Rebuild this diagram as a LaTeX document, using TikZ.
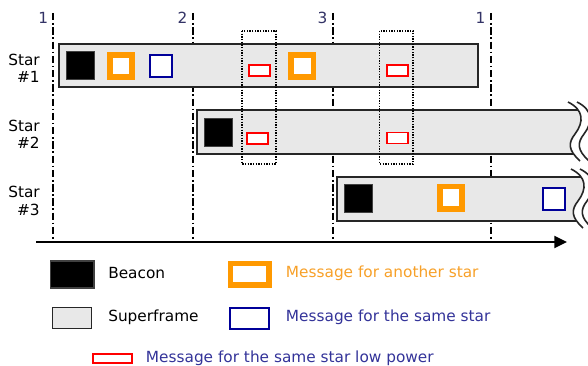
\documentclass[tikz,border=0pt]{standalone}
\usepackage{fontspec}
\setmainfont{DejaVu Sans}
\usepackage{tikz}
\usetikzlibrary{arrows.meta}
\usepackage{xcolor}
\definecolor{framegray}{RGB}{232,232,232}
\definecolor{msgorange}{RGB}{255,153,0}
\definecolor{msgblue}{RGB}{0,0,153}
\definecolor{txtorange}{RGB}{247,160,40}
\definecolor{txtblue}{RGB}{51,51,153}
\definecolor{ticknum}{RGB}{51,51,102}

\begin{document}
\begin{tikzpicture}[x=0.75pt,y=0.75pt,yscale=-1,xscale=1,
  font=\fontsize{11.5}{13}\selectfont,
  slotline/.style={line width=1.3pt, dash pattern=on 5.5pt off 2pt on 1.2pt off 2pt},
  frameline/.style={draw=black!85, line width=1.4pt},
  frame/.style={frameline, fill=framegray},
  beacon/.style={draw=black!75, fill=black, line width=0.8pt},
  msgother/.style={draw=msgorange, line width=4.2pt, fill=white},
  msgsame/.style={draw=msgblue, line width=1.4pt, fill=white},
  msglow/.style={draw=red, line width=1.4pt, fill=white},
  window/.style={dash pattern=on 1pt off 1pt, line width=1.1pt},
  legendtext/.style={anchor=west, inner sep=0pt},
  pics/tornbox/.style={code={
    \begin{scope}
      \clip (-#1,0) rectangle (20,44);
      \fill[framegray] (-#1,-10) -- (-4,-8) .. controls (12,0) and (12,12) .. (3,24) .. controls (-4,33) and (-4,40) .. (8,51) -- (-#1,51) -- cycle;
    \end{scope}
    \draw[frameline] (6,0) -- (-#1,0) -- (-#1,44) -- (2,44);
    \draw[frameline, line width=1.2pt] (-4,-8) .. controls (12,0) and (12,12) .. (3,24) .. controls (-4,33) and (-4,40) .. (8,51);
    \draw[frameline, line width=1.2pt] (5,-8) .. controls (21,0) and (21,12) .. (12,24) .. controls (5,33) and (5,40) .. (17,51);
  }}
]
\useasboundingbox (0,0) rectangle (588,366);

% Slot boundaries
\foreach \x/\n [count=\i] in {53.3/1, 192.7/2, 332.7/3, 490.7/1}{
  \draw[slotline] (\x,13) -- (\x,242);
  \node[anchor=east, inner sep=0pt, text=ticknum] (slot\i) at (\x-5,18) {\n};
}

% Star #1 superframe
\draw[frame] (59,44) rectangle (478,87);
% Star #2 superframe
\pic[yscale=-1] at (572,110) {tornbox=375};
% Star #3 superframe
\pic[yscale=-1] at (575,177) {tornbox=238};

% Low power windows
\draw[window] (242,31) rectangle (276,164);
\draw[window] (379.5,31) rectangle (413,164);

% Star #1 slots
\draw[beacon] (66.5,51.5) rectangle (94.5,79.5);
\draw[msgother] (109.8,54.8) rectangle (132.2,77.2);
\draw[msgsame] (150,55) rectangle (172,77);
\draw[msglow] (248.8,65.2) rectangle (269.8,76.2);
\draw[msgother] (291.1,54.8) rectangle (313.5,77.2);
\draw[msglow] (386.8,65.3) rectangle (407.8,76.3);
% Star #2 slots
\draw[beacon] (204.8,118.5) rectangle (232.8,146.5);
\draw[msglow] (247,133.2) rectangle (268,144.2);
\draw[msglow] (386.8,132.5) rectangle (407.8,143.5);
% Star #3 slots
\draw[beacon] (344.8,184.5) rectangle (372.8,212.5);
\draw[msgother] (439.8,186.5) rectangle (462.2,208.9);
\draw[msgsame] (542.8,187.8) rectangle (564.8,209.8);

% Star labels
\node[anchor=east, align=right, inner sep=0pt] (star1) at (40,68.5) {Star\\\#1};
\node[anchor=east, align=right, inner sep=0pt] (star2) at (40,134.5) {Star\\\#2};
\node[anchor=east, align=right, inner sep=0pt] (star3) at (40,201) {Star\\\#3};

% Time axis
\coordinate (axisstart) at (36,242);
\coordinate (axisend) at (567,242);
\draw[line width=1.5pt, -{Triangle[length=9.5pt,width=9pt]}] (axisstart) -- (axisend);

% Legend
\draw[beacon] (50.5,261) rectangle (94,288);
\node[legendtext] (lbeacon) at (108,273.3) {Beacon};
\draw[msgother] (230.5,263.5) rectangle (269,285);
\node[legendtext, text=txtorange] (lother) at (285.7,273.3) {Message for another star};
\draw[frame] (52.5,307.5) rectangle (91.5,328.5);
\node[legendtext] (lframe) at (108,317.7) {Superframe};
\draw[msgsame] (230.3,307.7) rectangle (269,329);
\node[legendtext, text=txtblue] (lsame) at (285.7,317.7) {Message for the same star};
\draw[msglow] (93.3,353.7) rectangle (131.7,363.3);
\node[legendtext, text=txtblue] (llow) at (145.7,358.3) {Message for the same star low power};

\end{tikzpicture}
\end{document}
